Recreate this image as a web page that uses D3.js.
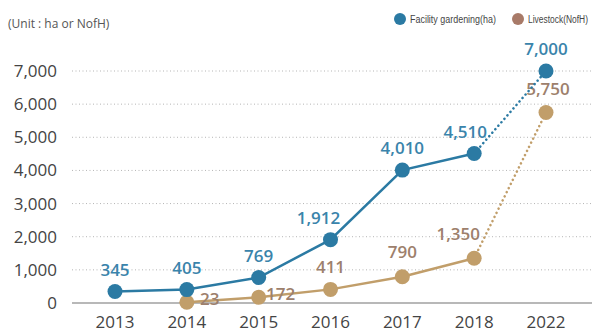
<!DOCTYPE html>
<html>
<head>
<meta charset="utf-8">
<script src="https://cdn.jsdelivr.net/npm/d3@7"></script>
<style>
  body { margin: 0; background: #fff; }
  svg { display: block; }
</style>
</head>
<body>
<div id="chart"></div>
<script>
var years = ["2013", "2014", "2015", "2016", "2017", "2018", "2022"];
var gardening = [345, 405, 769, 1912, 4010, 4510, 7000];
var livestock = [null, 23, 172, 411, 790, 1350, 5750];
var yTicks = [0, 1000, 2000, 3000, 4000, 5000, 6000, 7000];
var seriesNames = ["Facility gardening(ha)", "Livestock(NofH)"];

// label nudges (layout only)
var gardenDx = [0, 0, 0, -12, 0, -9, 0];
var stockDx = [0, 23, 22, 0, 0, -16, 2];
var stockDy = [0, 3, 3, -16, -19, -18, -17];

var width = 594, height = 332;
var blue = "#2b7aa3", tan = "#c19e6a", tanText = "#9d806c", legendTan = "#a87a68";
var font = "'Open Sans', 'Noto Sans', sans-serif";

var svg = d3.select("#chart").append("svg")
    .attr("width", width)
    .attr("height", height);

var x = d3.scalePoint().domain(years).range([115, 546]);
var y = d3.scaleLinear().domain([0, 7000]).range([303, 71]);

// grid
svg.selectAll(".grid")
    .data(yTicks.slice(1))
    .enter()
    .append("line")
    .attr("x1", 72).attr("x2", 592)
    .attr("y1", function(d){ return y(d); })
    .attr("y2", function(d){ return y(d); })
    .attr("stroke", "#b5b5b5")
    .attr("stroke-width", 1)
    .attr("stroke-dasharray", "1,2.5");

svg.append("line")
    .attr("x1", 72).attr("x2", 592)
    .attr("y1", y(0)).attr("y2", y(0))
    .attr("stroke", "#a0a0a0")
    .attr("stroke-width", 1.5);

// y labels
svg.selectAll(".ylab")
    .data(yTicks)
    .enter()
    .append("text")
    .attr("x", 57)
    .attr("y", function(d){ return y(d) + 6; })
    .attr("text-anchor", "end")
    .attr("font-family", font)
    .attr("font-size", 17)
    .attr("fill", "#444")
    .text(function(d){ return d3.format(",")(d); });

// x labels
svg.selectAll(".xlab")
    .data(years)
    .enter()
    .append("text")
    .attr("x", function(d){ return x(d); })
    .attr("y", 328)
    .attr("text-anchor", "middle")
    .attr("font-family", font)
    .attr("font-size", 17)
    .attr("fill", "#444")
    .text(function(d){ return d; });

svg.append("text")
    .attr("x", 8).attr("y", 28)
    .attr("font-family", font)
    .attr("font-size", 12)
    .attr("fill", "#555")
    .text("(Unit : ha or NofH)");

function drawSeries(values, color, labelColor, dxs, dys){
    var pts = [];
    for (var i = 0; i < years.length; i++){
        if (values[i] != null) pts.push({year: years[i], v: values[i], i: i});
    }
    var line = d3.line()
        .x(function(d){ return x(d.year); })
        .y(function(d){ return y(d.v); });
    var solid = pts.slice(0, pts.length - 1);
    var dotted = pts.slice(pts.length - 2);
    svg.append("path")
        .attr("d", line(solid))
        .attr("fill", "none")
        .attr("stroke", color)
        .attr("stroke-width", 2.5);
    svg.append("path")
        .attr("d", line(dotted))
        .attr("fill", "none")
        .attr("stroke", color)
        .attr("stroke-width", 2.5)
        .attr("stroke-linecap", "round")
        .attr("stroke-dasharray", "0.1,4.5");
    svg.selectAll(null)
        .data(pts)
        .enter()
        .append("circle")
        .attr("cx", function(d){ return x(d.year); })
        .attr("cy", function(d){ return y(d.v); })
        .attr("r", 7.5)
        .attr("fill", color);
    svg.selectAll(null)
        .data(pts)
        .enter()
        .append("text")
        .attr("x", function(d){ return x(d.year) + dxs[d.i]; })
        .attr("y", function(d){ return y(d.v) + (dys ? dys[d.i] : -16); })
        .attr("text-anchor", "middle")
        .attr("font-family", font)
        .attr("font-size", 17)
        .attr("font-weight", 600)
        .attr("fill", labelColor)
        .text(function(d){ return d3.format(",")(d.v); });
}

drawSeries(livestock, tan, tanText, stockDx, stockDy);
drawSeries(gardening, blue, "#3a84ab", gardenDx, null);

// legend - condensed look by squeezing horizontally
var legend = [[400, blue, seriesNames[0], 86], [518, legendTan, seriesNames[1], 60]];
legend.forEach(function(l){
    svg.append("circle")
        .attr("cx", l[0]).attr("cy", 19).attr("r", 6)
        .attr("fill", l[1]);
    var t = svg.append("text")
        .attr("font-family", "'Liberation Sans', sans-serif")
        .attr("font-size", 11)
        .attr("fill", "#444")
        .text(l[2]);
    var w = t.node().getComputedTextLength();
    t.attr("transform", "translate(" + (l[0] + 10) + ",23) scale(" + (l[3] / w) + ",1)");
});
</script>
</body>
</html>
